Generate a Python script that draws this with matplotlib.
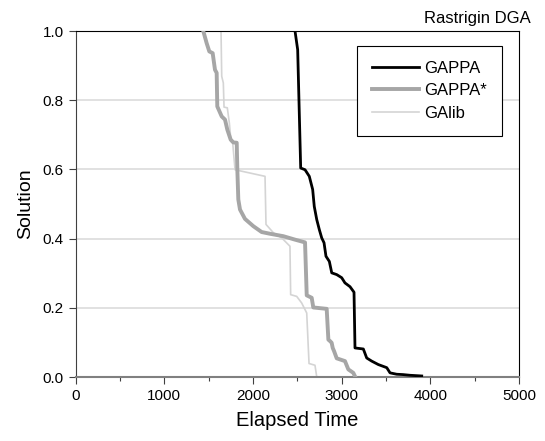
import matplotlib
matplotlib.use("Agg")
import matplotlib.pyplot as plt
from matplotlib.ticker import MultipleLocator, FormatStrFormatter

plt.rcParams['font.family'] = ['Liberation Sans', 'DejaVu Sans']

# GAPPA (black)
gappa_t = [2473, 2503, 2537, 2586, 2634, 2672, 2690, 2718, 2747, 2774, 2800,
           2822, 2860, 2887, 2943, 2999, 3036, 3093, 3138, 3149, 3243, 3281,
           3337, 3412, 3507, 3544, 3619, 3690, 3769, 3901]
gappa_s = [1.0, 0.946, 0.604, 0.599, 0.580, 0.542, 0.493, 0.455, 0.426, 0.402, 0.388,
           0.349, 0.334, 0.301, 0.296, 0.287, 0.272, 0.261, 0.245, 0.084, 0.081, 0.055,
           0.046, 0.036, 0.027, 0.012, 0.008, 0.007, 0.005, 0.003]

# GAPPA* (gray, thick)
gappa2_t = [1439, 1477, 1507, 1545, 1571, 1590, 1597, 1647, 1684, 1710, 1748,
            1778, 1816, 1823, 1834, 1853, 1909, 2003, 2097, 2191, 2341, 2473,
            2586, 2605, 2661, 2679, 2830, 2849, 2867, 2886, 2898, 2913, 2943,
            3036, 3074, 3130, 3149]
gappa2_s = [1.0, 0.965, 0.941, 0.936, 0.888, 0.879, 0.782, 0.753, 0.744, 0.715, 0.686,
            0.678, 0.677, 0.599, 0.513, 0.484, 0.457, 0.436, 0.419, 0.414, 0.407, 0.397,
            0.389, 0.236, 0.229, 0.201, 0.197, 0.108, 0.104, 0.099, 0.084, 0.075, 0.054,
            0.046, 0.022, 0.012, 0.002]

# GAlib (light gray)
galib_t = [1639, 1647, 1665, 1673, 1710, 1733, 1752, 1771, 1797, 2135, 2146,
           2229, 2323, 2416, 2424, 2492, 2548, 2605, 2631, 2698, 2717]
galib_s = [1.0, 0.869, 0.850, 0.780, 0.778, 0.734, 0.681, 0.676, 0.599, 0.580, 0.441,
           0.417, 0.402, 0.378, 0.238, 0.233, 0.214, 0.185, 0.039, 0.034, 0.002]

y_ticks = [0.0, 0.2, 0.4, 0.6, 0.8, 1.0]

fig = plt.figure(figsize=(5.45, 4.41), dpi=100)
ax = fig.add_axes([0.1387, 0.1451, 0.8140, 0.7846])

ax.plot(gappa_t, gappa_s, color='black', lw=2.0, label='GAPPA', zorder=4)
ax.plot(gappa2_t, gappa2_s, color='#a6a6a6', lw=2.8, label='GAPPA*', zorder=3)
ax.plot(galib_t, galib_s, color='#d4d4d4', lw=1.2, label='GAlib', zorder=2)

ax.set_xlim(0, 5000)
ax.set_ylim(0, 1)
ax.xaxis.set_major_locator(MultipleLocator(1000))
ax.xaxis.set_minor_locator(MultipleLocator(500))
ax.set_yticks(y_ticks)
ax.yaxis.set_major_formatter(FormatStrFormatter('%.1f'))
ax.grid(axis='y', color='#d9d9d9', lw=1.1)
ax.set_axisbelow(True)

ax.tick_params(axis='both', which='major', direction='out', length=5, width=0.8,
               labelsize=11, color='#404040')
ax.tick_params(axis='x', which='minor', direction='out', length=3, width=0.8, color='#404040')
for side in ['top', 'right']:
    ax.spines[side].set_color('black')
    ax.spines[side].set_linewidth(0.8)
ax.spines['left'].set_color('#404040')
ax.spines['left'].set_linewidth(0.8)
ax.spines['bottom'].set_color('#808080')
ax.spines['bottom'].set_linewidth(1.5)

ax.set_xlabel('Elapsed Time', fontsize=14.5, labelpad=6)
ax.set_ylabel('Solution', fontsize=14, labelpad=6)
fig.text(0.974, 0.947, 'Rastrigin DGA', ha='right', va='baseline', fontsize=12)

leg = ax.legend(loc='upper left', bbox_to_anchor=(0.634, 0.958), borderaxespad=0,
                fontsize=12, handlelength=2.8, handletextpad=0.35, labelspacing=0.45,
                borderpad=0.9, fancybox=False, framealpha=1)
leg.get_frame().set_edgecolor('black')
leg.get_frame().set_linewidth(0.8)

fig.savefig('out.png', dpi=100)
